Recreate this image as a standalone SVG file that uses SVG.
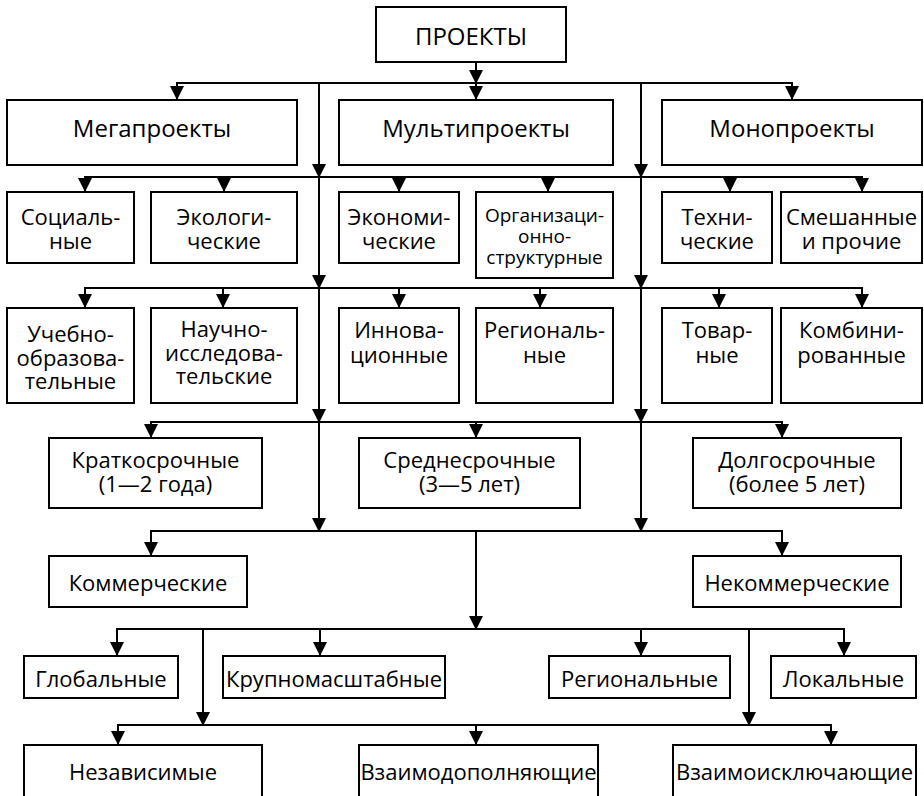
<svg xmlns="http://www.w3.org/2000/svg" width="924" height="796" viewBox="0 0 924 796">
<style>
.box{fill:#fff;stroke:#000;stroke-width:2}
.t{font-family:"Open Sans","Noto Sans",sans-serif;font-size:22px;fill:#000;text-anchor:middle}
.b{font-size:24px}
.s{font-size:19px}
.c line{stroke:#000;stroke-width:2}
.a{marker-end:url(#ah)}
</style>
<defs>
<marker id="ah" markerUnits="userSpaceOnUse" markerWidth="14" markerHeight="14" refX="14" refY="7" orient="auto" viewBox="0 0 14 14">
<path d="M0,0 L14,7 L0,14 z" fill="#000"/>
</marker>
</defs>
<rect width="924" height="796" fill="#fff"/>
<g class="c" id="connectors">
<line class="a" x1="476" y1="62" x2="476" y2="84"/>
<line class="a" x1="476" y1="83" x2="476" y2="100"/>
<line x1="177" y1="83" x2="792" y2="83"/>
<line class="a" x1="177" y1="82" x2="177" y2="100"/>
<line class="a" x1="792" y1="82" x2="792" y2="100"/>
<line class="a" x1="319" y1="83" x2="319" y2="178"/>
<line class="a" x1="319" y1="177" x2="319" y2="289"/>
<line class="a" x1="319" y1="288" x2="319" y2="423"/>
<line class="a" x1="319" y1="422" x2="319" y2="532"/>
<line class="a" x1="641" y1="83" x2="641" y2="178"/>
<line class="a" x1="641" y1="177" x2="641" y2="289"/>
<line class="a" x1="641" y1="288" x2="641" y2="423"/>
<line class="a" x1="641" y1="422" x2="641" y2="532"/>
<line x1="85" y1="177" x2="862" y2="177"/>
<line class="a" x1="85" y1="176" x2="85" y2="192"/>
<line class="a" x1="224" y1="176" x2="224" y2="192"/>
<line class="a" x1="399" y1="176" x2="399" y2="192"/>
<line class="a" x1="548" y1="176" x2="548" y2="192"/>
<line class="a" x1="730" y1="176" x2="730" y2="192"/>
<line class="a" x1="862" y1="176" x2="862" y2="192"/>
<line x1="85" y1="288" x2="862" y2="288"/>
<line class="a" x1="85" y1="287" x2="85" y2="308"/>
<line class="a" x1="223" y1="287" x2="223" y2="308"/>
<line class="a" x1="399" y1="287" x2="399" y2="308"/>
<line class="a" x1="540" y1="287" x2="540" y2="308"/>
<line class="a" x1="719" y1="287" x2="719" y2="308"/>
<line class="a" x1="862" y1="287" x2="862" y2="308"/>
<line x1="151" y1="422" x2="782" y2="422"/>
<line class="a" x1="151" y1="421" x2="151" y2="438"/>
<line class="a" x1="476" y1="421" x2="476" y2="438"/>
<line class="a" x1="782" y1="421" x2="782" y2="438"/>
<line x1="151" y1="531" x2="782" y2="531"/>
<line class="a" x1="151" y1="530" x2="151" y2="556"/>
<line class="a" x1="782" y1="530" x2="782" y2="556"/>
<line class="a" x1="476" y1="531" x2="476" y2="630"/>
<line x1="117" y1="629" x2="844" y2="629"/>
<line class="a" x1="117" y1="628" x2="117" y2="656"/>
<line class="a" x1="320" y1="628" x2="320" y2="656"/>
<line class="a" x1="641" y1="628" x2="641" y2="656"/>
<line class="a" x1="844" y1="628" x2="844" y2="656"/>
<line class="a" x1="203" y1="629" x2="203" y2="726"/>
<line class="a" x1="749" y1="629" x2="749" y2="726"/>
<line x1="118" y1="725" x2="831" y2="725"/>
<line class="a" x1="118" y1="724" x2="118" y2="745"/>
<line class="a" x1="476" y1="724" x2="476" y2="745"/>
<line class="a" x1="831" y1="724" x2="831" y2="745"/>
</g>
<g id="proekty"><rect class="box" x="376" y="7" width="190" height="55"/><text class="t b" x="471" y="45">ПРОЕКТЫ</text></g>
<g id="mega"><rect class="box" x="7" y="100" width="290" height="65"/><text class="t b" x="152" y="137">Мегапроекты</text></g>
<g id="multi"><rect class="box" x="339" y="100" width="274" height="65"/><text class="t b" x="476" y="137">Мультипроекты</text></g>
<g id="mono"><rect class="box" x="662" y="100" width="260" height="65"/><text class="t b" x="792" y="137">Монопроекты</text></g>
<g id="social"><rect class="box" x="7" y="192" width="127" height="71"/><text class="t" x="70.5" y="225">Социаль-<tspan x="70.5" dy="24">ные</tspan></text></g>
<g id="ecolog"><rect class="box" x="151" y="192" width="146" height="71"/><text class="t" x="224" y="225">Экологи-<tspan x="224" dy="24">ческие</tspan></text></g>
<g id="econom"><rect class="box" x="339" y="192" width="120" height="71"/><text class="t" x="399" y="225">Экономи-<tspan x="399" dy="24">ческие</tspan></text></g>
<g id="org"><rect class="box" x="476" y="192" width="137" height="86"/><text class="t s" x="544.5" y="222">Организаци-<tspan x="544.5" dy="21">онно-</tspan><tspan x="544.5" dy="21">структурные</tspan></text></g>
<g id="tech"><rect class="box" x="662" y="192" width="110" height="71"/><text class="t" x="717" y="225">Техни-<tspan x="717" dy="24">ческие</tspan></text></g>
<g id="mixed"><rect class="box" x="781" y="192" width="141" height="71"/><text class="t" x="851.5" y="225">Смешанные<tspan x="851.5" dy="24">и прочие</tspan></text></g>
<g id="edu"><rect class="box" x="7" y="308" width="127" height="95"/><text class="t" x="70.5" y="342">Учебно-<tspan x="70.5" dy="24">образова-</tspan><tspan x="70.5" dy="23">тельные</tspan></text></g>
<g id="science"><rect class="box" x="151" y="308" width="146" height="95"/><text class="t" x="224" y="337">Научно-<tspan x="224" dy="24">исследова-</tspan><tspan x="224" dy="23">тельские</tspan></text></g>
<g id="innov"><rect class="box" x="339" y="308" width="120" height="95"/><text class="t" x="399" y="338">Иннова-<tspan x="399" dy="25">ционные</tspan></text></g>
<g id="region1"><rect class="box" x="476" y="308" width="137" height="95"/><text class="t" x="544.5" y="338">Региональ-<tspan x="544.5" dy="25">ные</tspan></text></g>
<g id="goods"><rect class="box" x="662" y="308" width="110" height="95"/><text class="t" x="717" y="338">Товар-<tspan x="717" dy="25">ные</tspan></text></g>
<g id="combo"><rect class="box" x="781" y="308" width="141" height="95"/><text class="t" x="851.5" y="338">Комбини-<tspan x="851.5" dy="25">рованные</tspan></text></g>
<g id="short"><rect class="box" x="49" y="438" width="213" height="70"/><text class="t" x="155.5" y="468">Краткосрочные<tspan x="155.5" dy="24">(1—2 года)</tspan></text></g>
<g id="mid"><rect class="box" x="359" y="438" width="221" height="70"/><text class="t" x="469.5" y="468">Среднесрочные<tspan x="469.5" dy="24">(3—5 лет)</tspan></text></g>
<g id="long"><rect class="box" x="693" y="438" width="208" height="70"/><text class="t" x="797" y="468">Долгосрочные<tspan x="797" dy="24">(более 5 лет)</tspan></text></g>
<g id="comm"><rect class="box" x="49" y="556" width="198" height="51"/><text class="t" x="148" y="591">Коммерческие</text></g>
<g id="noncomm"><rect class="box" x="693" y="556" width="208" height="51"/><text class="t" x="797" y="591">Некоммерческие</text></g>
<g id="global"><rect class="box" x="24" y="656" width="154" height="42"/><text class="t" x="101" y="687">Глобальные</text></g>
<g id="large"><rect class="box" x="223" y="656" width="222" height="42"/><text class="t" x="334" y="687">Крупномасштабные</text></g>
<g id="region2"><rect class="box" x="549" y="656" width="181" height="42"/><text class="t" x="639.5" y="687">Региональные</text></g>
<g id="local"><rect class="box" x="771" y="656" width="145" height="42"/><text class="t" x="843.5" y="687">Локальные</text></g>
<g id="indep"><rect class="box" x="24" y="745" width="238" height="60"/><text class="t" x="143" y="780">Независимые</text></g>
<g id="compl"><rect class="box" x="359" y="745" width="239" height="60"/><text class="t" x="478.5" y="780">Взаимодополняющие</text></g>
<g id="excl"><rect class="box" x="673" y="745" width="243" height="60"/><text class="t" x="794.5" y="780">Взаимоисключающие</text></g>
</svg>
